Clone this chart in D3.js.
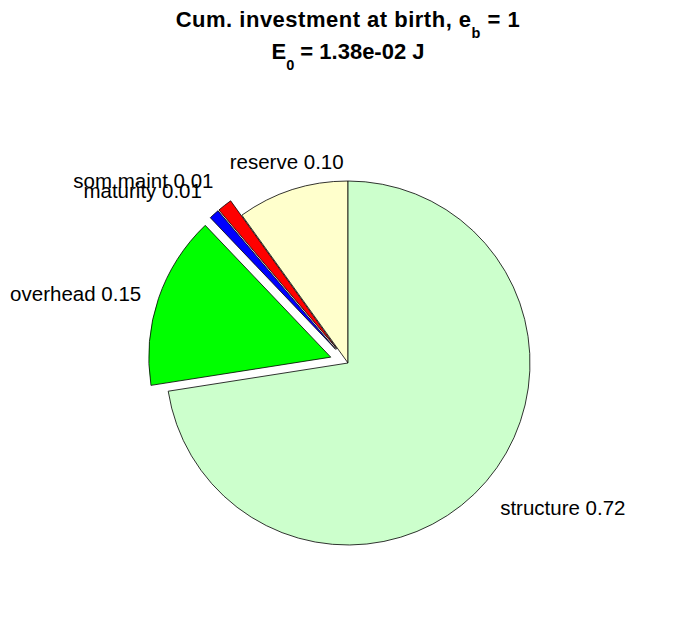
<!DOCTYPE html>
<html>
<head>
<meta charset="utf-8">
<script src="https://cdn.jsdelivr.net/npm/d3@7"></script>
<style>
  html, body { margin: 0; padding: 0; background: #fff; }
  svg { display: block; }
  text { font-family: "Liberation Sans", Arial, Helvetica, sans-serif; fill: #000; }
</style>
</head>
<body>
<script>
// ---- data ----
const categories = ["reserve", "som maint", "maturity", "overhead", "structure"];
const fractions  = [0.099, 0.013, 0.009, 0.1535, 0.7245];
const exploded   = [false, true, true, true, false];
const sliceColors = ["#FFFFCC", "#FF0000", "#0000FF", "#00FF00", "#CCFFCC"];
const titleLine1 = { main: "Cum. investment at birth, e", sub: "b", tail: " = 1" };
const titleLine2 = { main: "E", sub: "0", tail: " = 1.38e-02 J" };

// ---- layout ----
const W = 696, H = 618;
const cx = 348, cy = 363, R = 182;
const explodeDist = 0.1 * R;
const labelDist = 1.1 * R;

const svg = d3.select("body").append("svg").attr("width", W).attr("height", H);
svg.append("rect").attr("width", W).attr("height", H).attr("fill", "#fff");

// counterclockwise from 12 o'clock, like MATLAB pie
const pie = d3.pie().sort(null).value(d => d.v).startAngle(0).endAngle(-2 * Math.PI);
const data = categories.map((c, i) => ({ name: c, v: fractions[i], ex: exploded[i], color: sliceColors[i] }));
const arcs = pie(data);
const arcGen = d3.arc().innerRadius(0).outerRadius(R);
const fmt = d3.format(".2f");

const g = svg.append("g").attr("transform", `translate(${cx},${cy})`);

arcs.forEach(a => {
  const mid = (a.startAngle + a.endAngle) / 2;
  const dx = Math.sin(mid), dy = -Math.cos(mid);
  const off = a.data.ex ? explodeDist : 0;
  const ox = dx * off, oy = dy * off;
  g.append("path")
    .attr("d", arcGen(a))
    .attr("transform", `translate(${ox},${oy})`)
    .attr("fill", a.data.color)
    .attr("stroke", "#000")
    .attr("stroke-width", 0.8)
    .attr("stroke-linejoin", "round");
  a._lab = { x: ox + dx * labelDist, y: oy + dy * labelDist, dx, dy };
});

arcs.forEach(a => {
  const L = a._lab;
  let anchor = Math.abs(L.dx) < 0.35 ? "middle" : (L.dx < 0 ? "end" : "start");
  let by;
  if (L.dy < -0.5) by = L.y - 3;       // bottom aligned
  else if (L.dy > 0.5) by = L.y + 22;  // top aligned
  else by = L.y + 8;                    // middle
  g.append("text")
    .attr("x", L.x).attr("y", by)
    .attr("text-anchor", anchor)
    .attr("font-size", 20.5)
    .text(a.data.name + " " + fmt(a.data.v));
});

// ---- title ----
function titleLine(spec, y, spacing) {
  const t = svg.append("text")
    .attr("x", cx).attr("y", y)
    .attr("text-anchor", "middle")
    .attr("font-weight", "bold")
    .attr("font-size", 22)
    .attr("letter-spacing", spacing);
  t.append("tspan").text(spec.main);
  t.append("tspan").attr("dy", 11).attr("font-size", 14.5).text(spec.sub);
  t.append("tspan").attr("dy", -11).text(spec.tail);
}
titleLine(titleLine1, 27, 0.5);
titleLine(titleLine2, 59, 0);
</script>
</body>
</html>
